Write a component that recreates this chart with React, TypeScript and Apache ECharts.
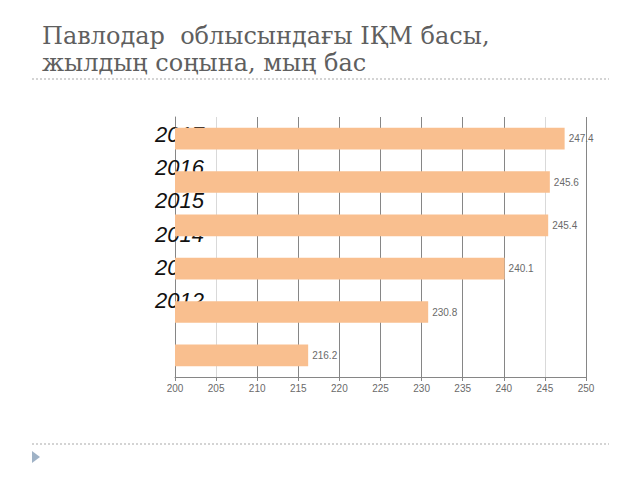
import React, { useEffect, useRef } from "react";
import * as echarts from "echarts";

const titleLines = ["Павлодар  облысындағы ІҚМ басы,", "жылдың соңына, мың бас"];
const years = ["2017", "2016", "2015", "2014", "2013", "2012"];
const values = [247.4, 245.6, 245.4, 240.1, 230.8, 216.2];
const xMin = 200;
const xMax = 250;
const xStep = 5;

const GRID_DARK = "#868686";
const GRID_LIGHT = "#d9d9d9";
const gridColors = [GRID_DARK, GRID_LIGHT, GRID_DARK, GRID_DARK, GRID_DARK, GRID_DARK, GRID_DARK, GRID_DARK, GRID_DARK, GRID_LIGHT, GRID_DARK];

export default function App() {
  const ref = useRef<HTMLDivElement>(null);
  useEffect(() => {
    if (!ref.current) return;
    const chart = echarts.init(ref.current, undefined, { renderer: "svg" });
    chart.setOption({
      animation: false,
      backgroundColor: "#ffffff",
      title: {
        text: titleLines.join("\n"),
        left: 37,
        top: 17,
        textStyle: {
          fontFamily: "DejaVu Serif",
          fontSize: 24,
          fontWeight: "normal",
          color: "#5f5f5f",
          lineHeight: 27,
        },
      },
      grid: [
        { left: 175, right: 54, top: 117, bottom: 103, containLabel: false },
        { left: 155, width: 10, top: 118, height: 199, containLabel: false },
      ],
      xAxis: [
        {
          type: "value",
          gridIndex: 0,
          min: xMin,
          max: xMax,
          interval: xStep,
          axisLine: { show: true, lineStyle: { color: GRID_DARK, width: 1 } },
          axisTick: { show: true, length: 4, lineStyle: { color: GRID_DARK } },
          axisLabel: { fontFamily: "Liberation Sans", fontSize: 10, color: "#6a6a6a", margin: 6 },
          splitLine: { show: true, lineStyle: { color: gridColors, width: 1 } },
        },
        { type: "value", gridIndex: 1, show: false },
      ],
      yAxis: [
        {
          type: "category",
          gridIndex: 0,
          data: years,
          inverse: true,
          axisLine: { show: true, lineStyle: { color: GRID_DARK } },
          axisTick: { show: false },
          axisLabel: { show: false },
        },
        {
          type: "category",
          gridIndex: 1,
          data: years,
          inverse: true,
          axisLine: { show: false },
          axisTick: { show: false },
          axisLabel: {
            show: true,
            align: "left",
            margin: 0,
            fontFamily: "Liberation Sans",
            fontStyle: "italic",
            fontSize: 22,
            color: "#111111",
          },
        },
      ],
      series: [
        {
          type: "bar",
          xAxisIndex: 0,
          yAxisIndex: 0,
          data: values,
          barWidth: "50%",
          z: 5,
          itemStyle: { color: "#F9BF8F" },
          label: {
            show: true,
            position: "right",
            distance: 4,
            fontFamily: "Liberation Sans",
            fontSize: 10,
            color: "#6a6a6a",
            formatter: (p: any) => p.value.toFixed(1),
          },
        },
      ],
      graphic: [
        {
          type: "line",
          shape: { x1: 32, y1: 79, x2: 609, y2: 79 },
          style: { stroke: "#c6c6c6", lineWidth: 1.5, lineDash: [2, 2] },
        },
        {
          type: "line",
          shape: { x1: 32, y1: 444, x2: 609, y2: 444 },
          style: { stroke: "#c6c6c6", lineWidth: 1.5, lineDash: [2, 2] },
        },
        {
          type: "polygon",
          shape: { points: [[32, 451], [40, 457], [32, 463]] },
          style: { fill: "#9fb2c6" },
        },
      ],
    });
    return () => chart.dispose();
  }, []);
  return <div ref={ref} style={{ position: "fixed", left: 0, top: 0, width: 640, height: 480 }} />;
}
